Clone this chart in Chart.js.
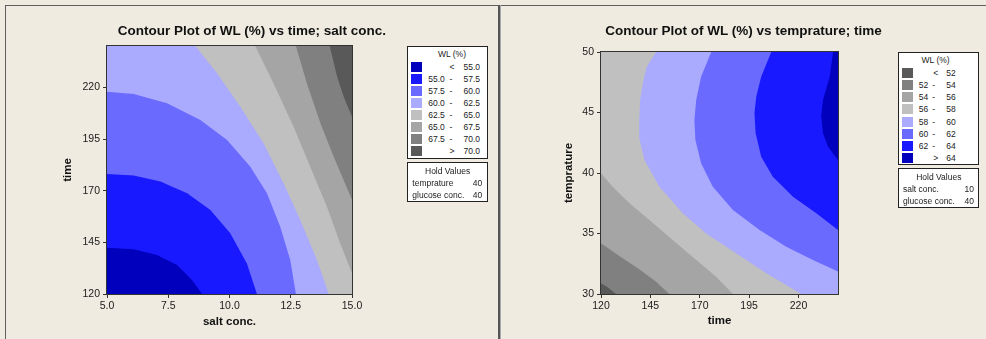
<!DOCTYPE html>
<html>
<head>
<meta charset="utf-8">
<script src="https://cdn.jsdelivr.net/npm/chart.js@4.4.1/dist/chart.umd.min.js"></script>
<style>
  body { margin: 0; width: 986px; height: 339px; overflow: hidden; position: relative;
         background: #efebe1; font-family: "Liberation Sans", Arial, sans-serif; }
  .rule { position: absolute; background: #5f5f5f; }
  canvas { position: absolute; }
  .title { position: absolute; top: 22px; height: 17px; line-height: 17px; text-align: center;
           font-weight: bold; font-size: 13.5px; color: #111; }
  .box { position: absolute; background: #fff; border: 1px solid #222; box-sizing: border-box;
         font-size: 8.5px; color: #222; }
  .box span { position: absolute; white-space: nowrap; line-height: 10px; }
  .sw { position: absolute; width: 11px; height: 10px; }
</style>
</head>
<body>
<div class="rule" style="left:5px;top:5px;width:981px;height:1px"></div>
<div class="rule" style="left:5px;top:5px;width:1px;height:334px"></div>
<div class="rule" style="left:498px;top:5px;width:2px;height:334px;background:#555"></div>
<div class="rule" style="left:500px;top:5px;width:1px;height:334px;background:#a8a8a8"></div>

<canvas id="chartA" width="492" height="333" style="left:6px;top:6px"></canvas>
<canvas id="chartB" width="485" height="333" style="left:501px;top:6px"></canvas>

<div class="title" style="left:6px;width:492px">Contour Plot of WL (%) vs time; salt conc.</div>
<div class="title" style="left:501px;width:485px">Contour Plot of WL (%) vs temprature; time</div>

<div class="box" id="legA" style="left:407px;top:46px;width:81px;height:113px"></div>
<div class="box" id="holdA" style="left:407px;top:162px;width:81px;height:40px"></div>
<div class="box" id="legB" style="left:898px;top:52px;width:81px;height:113px"></div>
<div class="box" id="holdB" style="left:898px;top:168px;width:81px;height:40px"></div>

<script>
// ---- left plot: WL (%) over salt conc. (x) and time (y) ----
const saltRange = [5, 15];
const timeRange = [120, 240];
const saltTicks = [5, 7.5, 10, 12.5, 15];
const timeTicks = [120, 145, 170, 195, 220];

const levelsA = [55.0, 57.5, 60.0, 62.5, 65.0, 67.5, 70.0];
const coloursA = ['#0000bd', '#1919ff', '#6a6aff', '#aaaaff', '#c0c0c0', '#a5a5a5', '#808080', '#595959'];
const holdA = [['temprature', 40], ['glucose conc.', 40]];

// contour lines, from the left/top edge to the bottom/right edge
const wl55  = [[5,142.4],[6.09,141.6],[7.04,138.9],[7.86,134.0],[8.47,126.8],[8.88,120]];
const wl575 = [[5,178.1],[6.09,177.3],[7.18,174.4],[8.27,168.7],[9.22,160.6],[10.03,149.4],[10.71,134.8],[11.12,120]];
const wl60  = [[5,217.9],[6.09,216.8],[7.45,212.3],[8.81,204.2],[9.90,194.5],[10.85,181.6],[11.53,168.7],[12.07,152.6],[12.48,136.5],[12.71,120]];
const wl625 = [[8.61,240],[9.49,226.8],[10.44,210.6],[11.39,192.9],[12.21,173.5],[12.89,155.8],[13.57,136.5],[14.05,120]];
const wl65  = [[11.05,240],[11.80,221.9],[12.62,200.8],[13.30,181.5],[13.98,162.1],[14.52,144.4],[15,130]];
const wl675 = [[12.71,240],[13.16,221.9],[13.71,202.6],[14.25,186.5],[15,165.5]];
const wl70  = [[14.09,240],[14.39,225.2],[14.66,215.5],[15,205.8]];

// ---- right plot: WL (%) over time (x) and temprature (y) ----
const tempRange = [30, 50];
const tempTicks = [30, 35, 40, 45, 50];

const levelsB = [52, 54, 56, 58, 60, 62, 64];
const coloursB = ['#595959', '#808080', '#a5a5a5', '#c0c0c0', '#aaaaff', '#6a6aff', '#1919ff', '#0000bd'];
const holdB = [['salt conc.', 10], ['glucose conc.', 40]];

// contour lines, from the bottom/right edge to the left/top edge
const wl52 = [[127.6,30],[123.4,30.55],[120,30.88]];
const wl54 = [[154.6,30],[147.9,31.02],[139.4,32.04],[129.3,33.14],[120,34.19]];
const wl56 = [[186.8,30],[178.3,31.43],[168.2,32.81],[156.3,34.46],[144.5,36.12],[134.4,37.49],[125.9,38.87],[120,39.97]];
const wl58 = [[221.4,30],[203.7,31.71],[188.4,33.36],[173.2,35.01],[161.4,36.67],[149.6,38.87],[142.0,41.07],[139.6,42.73],[139.4,44.38],[139.8,46.03],[141.5,47.69],[143.2,48.79],[147.9,50]];
const wl60b = [[240,31.85],[227.3,32.81],[213.8,33.91],[200.3,35.29],[186.8,36.94],[176.6,38.87],[170.7,40.80],[167.8,42.73],[167.3,44.38],[168.2,46.03],[170.7,47.96],[175.8,50]];
const wl62 = [[240,35.29],[229.0,36.67],[217.2,38.04],[207.0,39.70],[201.1,41.35],[198.3,43.28],[197.7,44.93],[198.6,46.31],[201.1,47.96],[206.2,50]];
const wl64 = [[240,41.07],[234.9,42.18],[232.4,43.28],[231.5,44.66],[232.4,46.03],[235.8,47.96],[237.5,50]];

// close a contour into a region by walking the frame forward from its end back to its start
function region(line, xr, yr) {
  const eq = (a, b) => Math.abs(a - b) < 1e-9;
  const pos = ([x, y]) => {
    if (eq(x, xr[0])) return (y - yr[0]) / (yr[1] - yr[0]);
    if (eq(y, yr[1])) return 1 + (x - xr[0]) / (xr[1] - xr[0]);
    if (eq(x, xr[1])) return 2 + (yr[1] - y) / (yr[1] - yr[0]);
    return 3 + (xr[1] - x) / (xr[1] - xr[0]);
  };
  const corners = [[xr[0], yr[0]], [xr[0], yr[1]], [xr[1], yr[1]], [xr[1], yr[0]]];
  const ts = pos(line[0]), te = pos(line[line.length - 1]);
  const d = (ts - te + 4) % 4;
  const extra = corners.map((c, k) => ({c, dk: (k - te + 4) % 4}))
    .filter(o => o.dk > 0 && o.dk < d)
    .sort((a, b) => a.dk - b.dk)
    .map(o => o.c);
  return line.concat(extra).map(([x, y]) => ({x, y}));
}

function area(data, colour) {
  return { data, backgroundColor: colour, borderColor: 'rgba(0,0,0,0)', borderWidth: 0,
           pointRadius: 0, fill: 'shape', tension: 0 };
}

const frame = {
  id: 'frame',
  afterDatasetsDraw(chart) {
    const {ctx, chartArea: a} = chart;
    ctx.save();
    ctx.strokeStyle = '#333';
    ctx.lineWidth = 1;
    ctx.strokeRect(a.left - 0.5, a.top - 0.5, a.right - a.left + 1, a.bottom - a.top + 1);
    ctx.restore();
  }
};

const tickFont = { family: '"Liberation Sans", Arial, sans-serif', size: 10.5 };
const titleFont = { family: '"Liberation Sans", Arial, sans-serif', size: 11.5, weight: 'bold' };

function axis(range, ticks, fmt, label, titlePad, fitSize, horizontal) {
  return {
    type: 'linear', min: range[0], max: range[1],
    afterBuildTicks: s => { s.ticks = ticks.map(v => ({value: v})); },
    afterFit: s => { if (horizontal) s.height = fitSize; else s.width = fitSize; },
    grid: { drawOnChartArea: false, drawTicks: true, tickLength: 4, color: '#333' },
    border: { display: false },
    ticks: { font: tickFont, color: '#1a1a1a', padding: horizontal ? 2 : 3, maxRotation: 0,
             callback: v => fmt(v) },
    title: { display: true, text: label, font: titleFont, color: '#111', padding: titlePad }
  };
}

function makeChart(id, datasets, xAxis, yAxis, padding) {
  new Chart(document.getElementById(id), {
    type: 'line',
    data: { datasets },
    options: {
      responsive: false, animation: false,
      layout: { padding },
      scales: { x: xAxis, y: yAxis },
      plugins: { legend: { display: false }, tooltip: { enabled: false } }
    },
    plugins: [frame]
  });
}

// left: low values in the lower-left; paint the frame with the top colour, then smaller regions on top
const linesA = [wl55, wl575, wl60, wl625, wl65, wl675, wl70];
const dsA = linesA.map((l, k) => area(region(l, saltRange, timeRange), coloursA[k]));
dsA.push(area(region([[saltRange[0], timeRange[0]], [saltRange[0], timeRange[0]]], saltRange, timeRange)
  .concat([{x: saltRange[1], y: timeRange[0]}, {x: saltRange[1], y: timeRange[1]}, {x: saltRange[0], y: timeRange[1]}]), coloursA[7]));

makeChart('chartA', dsA,
  axis(saltRange, saltTicks, v => v.toFixed(1), 'salt conc.', {top: 0, bottom: 10.4}, 45, true),
  axis(timeRange, timeTicks, v => String(v), 'time', {top: 55.4, bottom: 0}, 101, false),
  {top: 40, right: 146, left: 0, bottom: 0});

// right: high values to the right; base colour is the lowest class
const linesB = [wl52, wl54, wl56, wl58, wl60b, wl62, wl64];
const dsB = linesB.map((l, k) => area(region(l, timeRange, tempRange), coloursB[k + 1])).reverse();
dsB.push(area([{x: timeRange[0], y: tempRange[0]}, {x: timeRange[1], y: tempRange[0]},
               {x: timeRange[1], y: tempRange[1]}, {x: timeRange[0], y: tempRange[1]}], coloursB[0]));

makeChart('chartB', dsB,
  axis(timeRange, timeTicks, v => String(v), 'time', {top: 0, bottom: 11.1}, 45, true),
  axis(tempRange, tempTicks, v => String(v), 'temprature', {top: 61.1, bottom: 0}, 100, false),
  {top: 46, right: 148, left: 0, bottom: 0});

// ---- legends ----
function span(text, left, right, cy, centre) {
  let s = `top:${cy - 5}px;`;
  if (centre) s += `left:${left}px;transform:translateX(-50%);`;
  else if (right != null) s += `right:${right}px;`;
  else s += `left:${left}px;`;
  return `<span style="${s}">${text}</span>`;
}

function legend(id, levels, colours, dp, c) {
  const f = v => v.toFixed(dp);
  const n = levels.length;
  let h = span('WL (%)', c.titleX, null, c.titleY, true);
  colours.forEach((col, i) => {
    const cy = c.row0 + i * c.step;
    h += `<div class="sw" style="left:${c.sw}px;top:${cy - 5}px;background:${col}"></div>`;
    if (i === 0) {
      h += span('&lt;', c.sym, null, cy, true) + span(f(levels[0]), 0, c.hiR, cy);
    } else if (i === n) {
      h += span('&gt;', c.sym, null, cy, true) + span(f(levels[n - 1]), 0, c.hiR, cy);
    } else {
      h += span(f(levels[i - 1]), c.lo, null, cy) + span('-', c.dash, null, cy, true) +
           span(f(levels[i]), 0, c.hiR, cy);
    }
  });
  document.getElementById(id).innerHTML = h;
}

function hold(id, rows, c) {
  let h = span('Hold Values', c.titleX, null, c.titleY, true);
  rows.forEach(([name, v], i) => {
    const cy = c.row0 + i * c.step;
    h += span(name, c.left, null, cy) + span(String(v), 0, c.right, cy);
  });
  document.getElementById(id).innerHTML = h;
}

legend('legA', levelsA, coloursA, 1, {titleX: 44, titleY: 7, row0: 19.7, step: 12.1, sw: 3, lo: 20.3, dash: 43, sym: 44, hiR: 7});
legend('legB', levelsB, coloursB, 0, {titleX: 36.6, titleY: 7, row0: 19.7, step: 12.2, sw: 3.3, lo: 19.7, dash: 34.7, sym: 36.7, hiR: 22.3});
hold('holdA', holdA, {titleX: 39.6, titleY: 7.7, row0: 20, step: 12, left: 4.3, right: 4.7});
hold('holdB', holdB, {titleX: 39.8, titleY: 7.7, row0: 20, step: 12, left: 4, right: 4});
</script>
</body>
</html>
